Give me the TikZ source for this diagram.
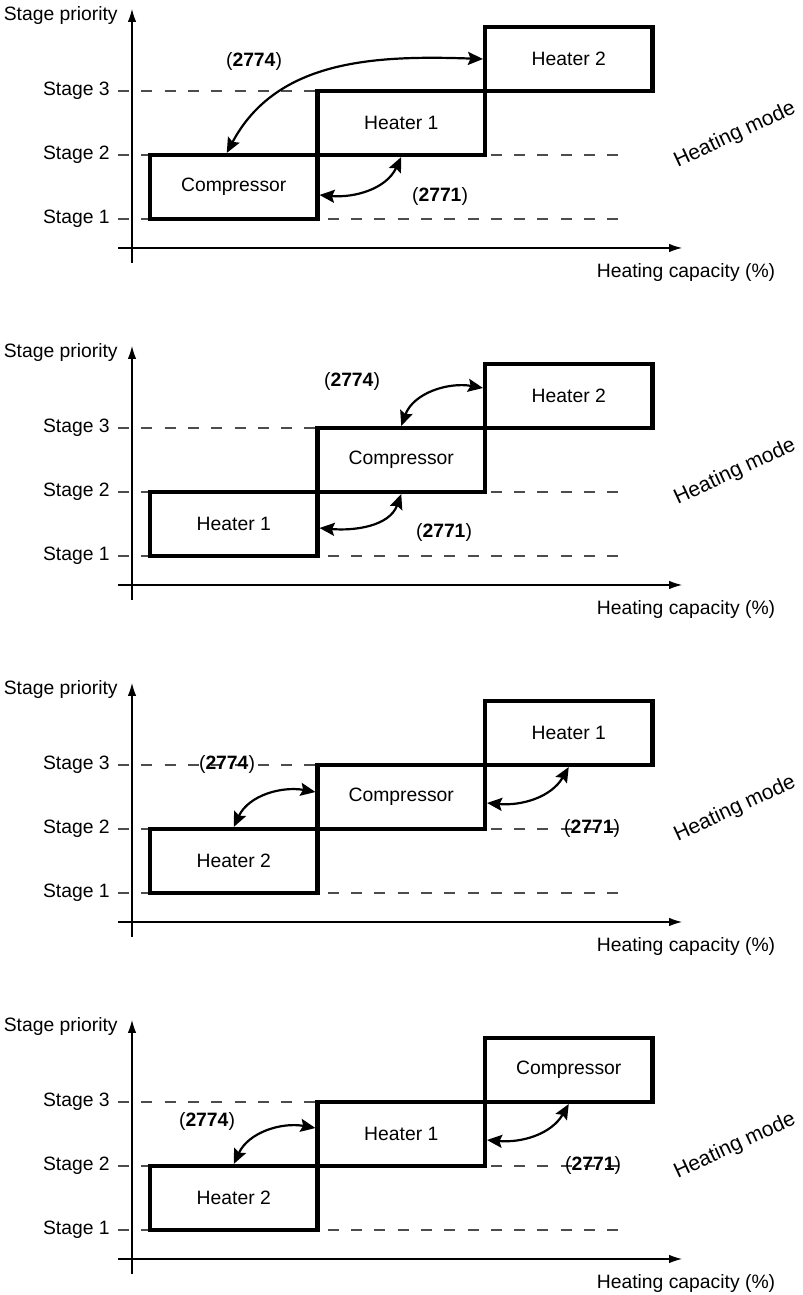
\documentclass[tikz,border=0pt]{standalone}
\usepackage{fontspec}
\setmainfont{Liberation Sans}
\usetikzlibrary{arrows.meta}

\begin{document}
\begin{tikzpicture}[>=Stealth, font=\fontsize{11}{13}\selectfont,
    box/.style={draw, line width=2.3pt, minimum width=3.35cm, minimum height=1.28cm, inner sep=0pt},
    axisline/.style={line width=0.6pt, -{Latex[length=2.6mm,width=1.7mm]}},
    dline/.style={line width=0.6pt, black!70, dash pattern=on 0.22cm off 0.246cm},
    stagearrow/.style={line width=1.25pt, {Stealth[length=3mm,width=2.6mm,inset=0.5mm]}-{Stealth[length=3mm,width=2.6mm,inset=0.5mm]}}]
    \useasboundingbox (0,0) rectangle (16.06,25.9);

    % 四幅图: 坐标轴, 虚线和方块
    \foreach \k/\la/\lb/\lc in {0/Compressor/Heater 1/Heater 2,
                                1/Heater 1/Compressor/Heater 2,
                                2/Heater 2/Compressor/Heater 1,
                                3/Heater 2/Heater 1/Compressor} {
        \begin{scope}[shift={(2.64,20.94-6.74*\k)}]
            % 坐标轴
            \draw[axisline] (-0.28,0) -- (11.0,0);
            \draw[axisline] (0,-0.3) -- (0,4.78);
            \node[anchor=east, inner sep=0pt] (yl\k) at (-0.28,4.64) {Stage priority};
            \node (xl\k) at (11.08,-0.5) {Heating capacity (\%)};
            \node[rotate=25, font=\fontsize{12}{14}\selectfont] (hm\k) at (12.06,2.26) {Heating mode};

            % 各级虚线
            \foreach \s/\y in {1/0.58, 2/1.86, 3/3.14} {
                \draw[dline] (-0.28,\y) -- (9.72,\y);
                \node[anchor=east, inner sep=0pt] (st\k\s) at (-0.44,\y) {Stage \s};
            }

            % 三个方块
            \node[box] (A\k) at (2.035,1.22) {\la};
            \node[box] (B\k) at (5.385,2.50) {\lb};
            \node[box] (C\k) at (8.735,3.78) {\lc};
        \end{scope}
    }

    % 第一幅
    \draw[stagearrow] ([xshift=-0.14cm]A0.north) to[out=62, in=178] (C0.west);
    \draw[stagearrow] ([yshift=-0.16cm]A0.east) to[out=-5, in=245] (B0.south);
    \node (p0) at (5.08,24.66) {(\textbf{2774})};
    \node (q0) at (8.80,21.96) {(\textbf{2771})};

    % 第二幅
    \draw[stagearrow] (B1.north) to[out=70, in=170] ([yshift=0.16cm]C1.west);
    \draw[stagearrow] ([yshift=-0.08cm]A1.east) to[out=-5, in=250] (B1.south);
    \node (p1) at (7.04,18.26) {(\textbf{2774})};
    \node (q1) at (8.88,15.24) {(\textbf{2771})};

    % 第三幅
    \draw[stagearrow] (A2.north) to[out=65, in=170] ([yshift=0.1cm]B2.west);
    \draw[stagearrow] ([yshift=-0.12cm]B2.east) to[out=-5, in=240] (C2.south);
    \node (p2) at (4.54,10.60) {(\textbf{2774})};
    \node (q2) at (11.84,9.32) {(\textbf{2771})};

    % 第四幅
    \draw[stagearrow] (A3.north) to[out=65, in=170] ([yshift=0.12cm]B3.west);
    \draw[stagearrow] ([yshift=-0.12cm]B3.east) to[out=-5, in=240] (C3.south);
    \node (p3) at (4.14,3.46) {(\textbf{2774})};
    \node (q3) at (11.86,2.58) {(\textbf{2771})};
\end{tikzpicture}
\end{document}
